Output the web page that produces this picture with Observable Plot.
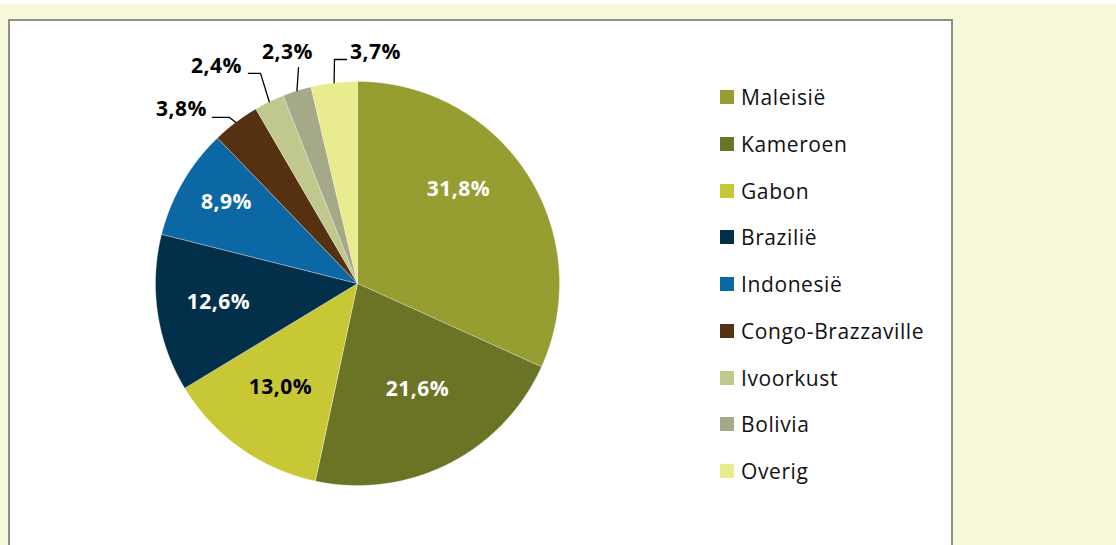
<!DOCTYPE html>
<html>
<head>
<meta charset="utf-8">
<script src="https://cdn.jsdelivr.net/npm/d3@7"></script>
<script src="https://cdn.jsdelivr.net/npm/@observablehq/plot@0.6"></script>
<style>
  html, body { margin: 0; padding: 0; }
  body { width: 1116px; height: 545px; overflow: hidden; background: #F7F7DA; position: relative; font-family: "Open Sans", "Noto Sans", sans-serif; }
  #topstrip { position: absolute; left: 0; top: 0; width: 1116px; height: 4px; background: #fff; }
  #panel { position: absolute; left: 8px; top: 19px; width: 941px; height: 540px; background: #fff; border: 2px solid #8E8E8E; }
  #chart { position: absolute; left: 0; top: 0; }
  #legend { position: absolute; left: 710px; top: 69px; }
  .item { position: absolute; left: 0; display: flex; align-items: center; height: 14px; white-space: nowrap; }
  .sw { width: 14px; height: 14px; margin-right: 7px; flex: none; }
  .lt { font-size: 21px; color: #111; line-height: 14px; position: relative; top: 0px; letter-spacing: 0.6px; }
</style>
</head>
<body>
<div id="topstrip"></div>
<div id="panel">
  <div id="chart"></div>
  <div id="legend"></div>
</div>
<script>
// ---- data ----
const names = ["Maleisië", "Kameroen", "Gabon", "Brazilië", "Indonesië", "Congo-Brazzaville", "Ivoorkust", "Bolivia", "Overig"];
const values = [31.8, 21.6, 13.0, 12.6, 8.9, 3.8, 2.4, 2.3, 3.7];
const labels = ["31,8%", "21,6%", "13,0%", "12,6%", "8,9%", "3,8%", "2,4%", "2,3%", "3,7%"];
const colors = ["#969E32", "#6B7424", "#C8C837", "#02304A", "#0C68A4", "#553111", "#C0C88E", "#A5A988", "#E8EB8E"];
const labelInk = ["white", "white", "black", "white", "white", "black", "black", "black", "black"];

// ---- layout (label placement, in pie-radius units from the centre) ----
const labelPos = [[0.500, 0.465], [0.297, -0.525], [-0.381, -0.515], [-0.688, -0.094], [-0.649, 0.401],
                  [-0.871, 0.861], [-0.698, 1.077], [-0.347, 1.146], [0.089, 1.146]];
// leader line start/elbow points for outside labels (index -> points before the arc point)
const leaderBends = {5: [[-0.718, 0.822], [-0.634, 0.822]], 6: [[-0.540, 1.040], [-0.480, 1.040]], 7: [[-0.292, 1.069]], 8: [[-0.054, 1.109], [-0.114, 1.109]]};

const cx = 347, cy = 262, r = 202;
const labelFont = "'Open Sans', 'Noto Sans', sans-serif";

const arcs = d3.pie().sort(null).value(d => d)(values);
const slices = [];
arcs.forEach((a, i) => {
  slices.push({name: names[i], x: 0, y: 0});
  const n = Math.max(4, Math.ceil((a.endAngle - a.startAngle) / 0.005));
  for (let k = 0; k <= n; k++) {
    const t = a.startAngle + (a.endAngle - a.startAngle) * k / n;
    slices.push({name: names[i], x: Math.sin(t), y: Math.cos(t)});
  }
  slices.push({name: names[i], x: 0, y: 0});
});

const leaders = [];
Object.keys(leaderBends).forEach(k => {
  const i = +k, a = arcs[i];
  const m = (a.startAngle + a.endAngle) / 2;
  leaderBends[k].forEach(p => leaders.push({name: names[i], x: p[0], y: p[1]}));
  leaders.push({name: names[i], x: Math.sin(m), y: Math.cos(m)});
});

const labelRows = labels.map((t, i) => ({text: t, x: labelPos[i][0], y: labelPos[i][1], ink: labelInk[i]}));

const chart = Plot.plot({
  width: 941,
  height: 540,
  margin: 0,
  style: {background: "transparent", overflow: "visible", letterSpacing: "0.5px"},
  x: {domain: [-1, 1], range: [cx - r, cx + r], axis: null},
  y: {domain: [-1, 1], range: [cy + r, cy - r], axis: null},
  color: {domain: names, range: colors},
  marks: [
    Plot.line(slices, {x: "x", y: "y", z: "name", fill: "name", stroke: "white", strokeWidth: 0.6, strokeOpacity: 0.5}),
    Plot.line(leaders, {x: "x", y: "y", z: "name", stroke: "#000", strokeWidth: 1.3}),
    Plot.text(labelRows.filter(d => d.ink === "white"), {x: "x", y: "y", text: "text", fill: "white", fontSize: 21, fontWeight: "bold", fontFamily: labelFont}),
    Plot.text(labelRows.filter(d => d.ink === "black"), {x: "x", y: "y", text: "text", fill: "black", fontSize: 21, fontWeight: "bold", fontFamily: labelFont})
  ]
});
document.getElementById("chart").appendChild(chart);

const legend = document.getElementById("legend");
names.forEach((n, i) => {
  const it = document.createElement("div");
  it.className = "item";
  it.style.top = (i * 46.75) + "px";
  it.innerHTML = `<div class="sw" style="background:${colors[i]}"></div><div class="lt">${n}</div>`;
  legend.appendChild(it);
});
</script>
</body>
</html>
